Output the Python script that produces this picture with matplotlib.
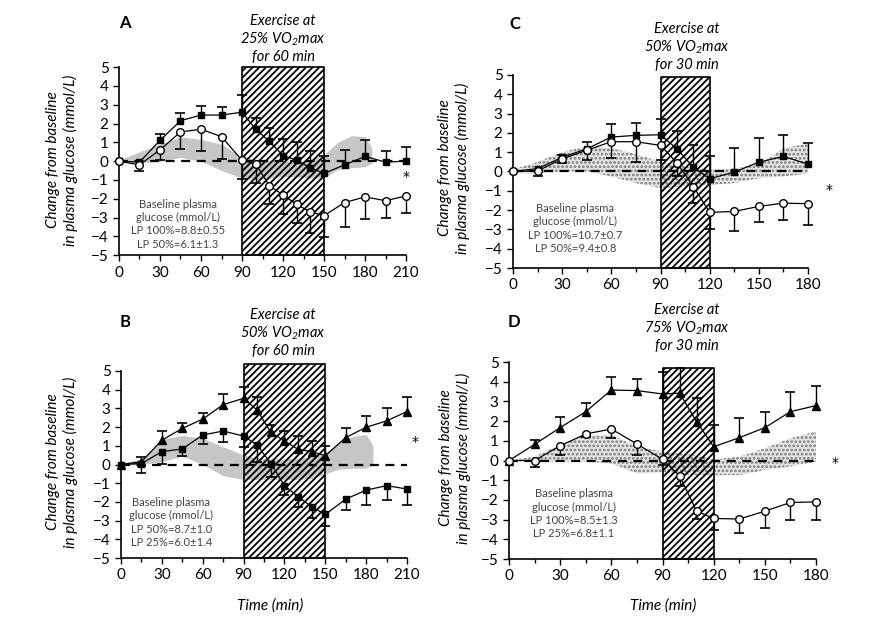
import numpy as np
import matplotlib
matplotlib.use('Agg')
import matplotlib.pyplot as plt

plt.rcParams['font.family'] = ['Lato', 'DejaVu Sans']
plt.rcParams['mathtext.default'] = 'regular'
plt.rcParams['hatch.linewidth'] = 1.3

# ---- panel A: 25% VO2max for 60 min ----
tA = [0, 15, 30, 45, 60, 75, 90, 100, 110, 120, 130, 140, 150, 165, 180, 195, 210]
A_lp100 = [0, -0.05, 1.1, 2.15, 2.45, 2.45, 2.6, 1.7, 1.05, 0.3, 0.05, -0.35, -0.65, -0.2, 0.25, -0.05, 0]
A_lp100_err = [0, 0, 0.35, 0.4, 0.5, 0.45, 0.9, 0.6, 0.7, 0.9, 0.95, 0.9, 0.95, 0.8, 0.85, 0.6, 0.75]
A_lp50 = [0, -0.2, 0.6, 1.55, 1.7, 1.3, 0.05, -0.15, -1.3, -1.8, -2.3, -2.7, -2.9, -2.2, -1.9, -2.1, -1.85]
A_lp50_err = [0, 0.35, 0.55, 0.9, 1.15, 1.2, 1.0, 1.0, 1.0, 1.0, 1.0, 1.1, 1.15, 1.3, 1.2, 0.9, 0.9]
A_band_t = [0, 15, 30, 45, 60, 75, 90, 100, 110, 120, 130, 140, 150, 160, 170, 180, 185]
A_band_hi = [0.05, 0.5, 0.9, 1.3, 1.15, 0.9, 0.2, 0.1, 0.05, 0.0, 0.0, 0.05, 0.35, 1.0, 1.35, 1.3, 0.7]
A_band_lo = [-0.05, -0.1, 0.0, 0.2, 0.0, -0.5, -0.9, -1.0, -0.9, -0.8, -0.85, -0.9, -0.9, -0.45, -0.35, -0.3, -0.1]

# ---- panel B: 50% VO2max for 60 min ----
tB = [0, 15, 30, 45, 60, 75, 90, 100, 110, 120, 130, 140, 150, 165, 180, 195, 210]
B_lp50 = [0, 0.15, 1.3, 1.93, 2.43, 3.2, 3.54, 2.9, 1.72, 1.26, 0.81, 0.69, 0.47, 1.44, 1.99, 2.33, 2.83]
B_lp50_err = [0, 0.25, 0.5, 0.3, 0.3, 0.55, 0.6, 0.7, 0.4, 0.55, 0.7, 0.55, 0.5, 0.5, 0.6, 0.7, 0.8]
B_lp25 = [0, 0.05, 0.69, 0.83, 1.58, 1.79, 1.52, 1.04, 0.05, -1.13, -1.72, -2.26, -2.67, -1.85, -1.37, -1.13, -1.31]
B_lp25_err = [0, 0.5, 0.65, 0.35, 0.5, 0.6, 0.6, 0.9, 0.7, 0.5, 0.55, 0.6, 0.6, 0.6, 0.8, 0.75, 0.85]
B_band_t = [0, 15, 30, 45, 60, 75, 90, 100, 110, 120, 130, 140, 150, 160, 170, 180, 185]
B_band_hi = [0.05, 0.3, 1.35, 1.55, 1.4, 0.95, 0.5, 0.35, 0.3, 0.3, 0.35, 0.4, 0.6, 1.2, 1.5, 1.6, 1.0]
B_band_lo = [-0.05, 0.0, 0.15, 0.45, 0.0, -0.6, -0.8, -0.8, -0.8, -0.8, -0.8, -0.75, -0.5, -0.25, -0.2, -0.2, 0.0]

# ---- panel C: 50% VO2max for 30 min ----
tC = [0, 15, 30, 45, 60, 75, 90, 100, 110, 120, 135, 150, 165, 180]
C_lp100 = [0, 0.15, 0.73, 1.17, 1.78, 1.87, 1.9, 1.17, 0.22, -0.38, -0.03, 0.48, 0.78, 0.38]
C_lp100_err = [0, 0, 0.1, 0.35, 0.67, 0.63, 0.8, 0.9, 1.16, 1.16, 1.27, 1.25, 1.12, 1.09]
C_lp50 = [0, 0.03, 0.65, 1.1, 1.54, 1.54, 1.35, 0.45, -0.78, -2.12, -2.07, -1.81, -1.64, -1.67]
C_lp50_err = [0, 0.29, 0.2, 0.5, 0.84, 1.06, 0.75, 0.7, 0.86, 0.88, 1.03, 0.79, 0.86, 1.09]
C_band_t = [0, 15, 30, 45, 60, 75, 90, 100, 110, 120, 135, 150, 165, 180, 183]
C_band_hi = [0.1, 0.5, 1.0, 1.3, 1.2, 0.9, 0.5, 0.35, 0.17, 0.1, 0.15, 0.35, 1.2, 1.45, 0.8]
C_band_lo = [-0.1, -0.1, 0.0, 0.0, -0.26, -0.6, -0.86, -0.8, -0.7, -0.7, -0.6, -0.35, -0.26, -0.1, 0.0]

# ---- panel D: 75% VO2max for 30 min ----
tD = [0, 15, 30, 45, 60, 75, 90, 100, 110, 120, 135, 150, 165, 180]
D_lp100 = [0, 0.82, 1.67, 2.48, 3.58, 3.55, 3.38, 3.42, 1.97, 0.7, 1.16, 1.67, 2.48, 2.79]
D_lp100_err = [0, 0.22, 0.52, 0.46, 0.67, 0.58, 1.09, 1.26, 1.2, 1.1, 0.98, 0.78, 0.99, 1.0]
D_lp25 = [0, 0, 0.75, 1.35, 1.6, 0.84, 0.06, -0.77, -2.57, -2.94, -2.97, -2.57, -2.13, -2.1]
D_lp25_err = [0, 0.31, 0.47, 0.15, 0.44, 0.56, 0.3, 0.5, 0.4, 0.59, 0.73, 0.83, 0.87, 0.93]
D_band_t = [0, 15, 30, 45, 60, 75, 90, 100, 110, 120, 135, 150, 165, 180, 183]
D_band_hi = [0.0, 0.2, 0.8, 1.3, 1.3, 0.7, 0.45, 0.35, 0.28, 0.05, 0.2, 0.62, 1.13, 1.47, 0.8]
D_band_lo = [0.0, -0.05, -0.06, -0.05, -0.15, -0.65, -0.6, -0.7, -0.74, -0.74, -0.74, -0.48, -0.3, -0.06, 0.0]

ex_labels = {
    'A': 'Exercise at\n25% VO$_2$max\nfor 60 min',
    'B': 'Exercise at\n50% VO$_2$max\nfor 60 min',
    'C': 'Exercise at\n50% VO$_2$max\nfor 30 min',
    'D': 'Exercise at\n75% VO$_2$max\nfor 30 min',
}
baseline_text = {
    'A': 'Baseline plasma\nglucose (mmol/L)\nLP 100%=8.8±0.55\nLP 50%=6.1±1.3',
    'B': 'Baseline plasma\nglucose (mmol/L)\nLP 50%=8.7±1.0\nLP 25%=6.0±1.4',
    'C': 'Baseline plasma\nglucose (mmol/L)\nLP 100%=10.7±0.7\nLP 50%=9.4±0.8',
    'D': 'Baseline plasma\nglucose (mmol/L)\nLP 100%=8.5±1.3\nLP 25%=6.8±1.1',
}


def series(ax, t, y, err, sign, marker, face, ms):
    t, y, err = np.asarray(t), np.asarray(y), np.asarray(err)
    end = y + sign * err
    m = err > 0
    ax.vlines(t[m], y[m], end[m], color='k', lw=1.0, zorder=4, clip_on=False)
    ax.plot(t[m], end[m], ls='none', marker='_', ms=6.5, mew=1.2, color='k',
            zorder=4, clip_on=False)
    ax.plot(t, y, '-', color='k', lw=0.9, marker=marker, ms=ms, mfc=face,
            mec='k', mew=1.0, zorder=5, clip_on=False)


def panel(ax, xmax, band, stipple, ex_end, ex_top, label, lab_x, lab_y,
          box_x, box_y, star):
    bt, blo, bhi = band
    if stipple:
        ax.fill_between(bt, blo, bhi, facecolor='#e4e4e4', edgecolor='#7a7a7a',
                        hatch='....', lw=0, zorder=1)
    else:
        ax.fill_between(bt, blo, bhi, color='#c6c6c6', lw=0, zorder=1)
    ax.fill_between([90, ex_end], -5, ex_top, facecolor='none', edgecolor='k',
                    hatch='/////', lw=1.2, zorder=2, clip_on=False)
    ax.plot([0, xmax], [0, 0], color='k', lw=1.6, ls=(0, (4, 3)), zorder=3)
    ax.set_xlim(0, xmax)
    ax.set_ylim(-5, 5)
    ax.set_xticks(np.arange(0, xmax + 1, 30))
    ax.set_xticks(np.arange(15, xmax, 30), minor=True)
    ax.set_yticks(np.arange(-5, 6, 1))
    ax.tick_params(labelsize=11, length=4, width=1, direction='out')
    ax.tick_params(which='minor', length=3, width=1)
    for s in ['top', 'right']:
        ax.spines[s].set_visible(False)
    for s in ['left', 'bottom']:
        ax.spines[s].set_linewidth(1.2)
    ax.text(lab_x, lab_y, ex_labels[label], ha='center', va='bottom',
            style='italic', fontsize=10.5, clip_on=False)
    ax.text(box_x, box_y, baseline_text[label], ha='center', va='center',
            fontsize=8, color='#444444', linespacing=1.25)
    ax.text(star[0], star[1], '*', ha='center', va='center', fontsize=10,
            family='DejaVu Sans')


fig = plt.figure(figsize=(8.9, 6.21), dpi=100)
axA = fig.add_axes([0.1337, 0.589, 0.3225, 0.303])
axB = fig.add_axes([0.136, 0.1014, 0.3213, 0.3012])
axC = fig.add_axes([0.5764, 0.5684, 0.3315, 0.311])
axD = fig.add_axes([0.5719, 0.0998, 0.345, 0.3172])

panel(axA, 210, (A_band_t, A_band_lo, A_band_hi), False, 150, 5.0, 'A',
      120, 5.15, 43, -3.35, (210, -0.85))
series(axA, tA, A_lp100, A_lp100_err, 1, 's', 'k', 5)
series(axA, tA, A_lp50, A_lp50_err, -1, 'o', 'white', 5.5)

panel(axB, 210, (B_band_t, B_band_lo, B_band_hi), False, 150, 5.35, 'B',
      119, 5.7, 37, -3.1, (216, 1.2))
series(axB, tB, B_lp50, B_lp50_err, 1, '^', 'k', 6)
series(axB, tB, B_lp25, B_lp25_err, -1, 's', 'k', 5)

panel(axC, 180, (C_band_t, C_band_lo, C_band_hi), True, 120, 4.9, 'C',
      106, 5.15, 38, -2.95, (193, -0.95))
series(axC, tC, C_lp100, C_lp100_err, 1, 's', 'k', 5)
series(axC, tC, C_lp50, C_lp50_err, -1, 'o', 'white', 5.5)

panel(axD, 180, (D_band_t, D_band_lo, D_band_hi), True, 120, 4.7, 'D',
      104, 5.45, 38, -2.7, (191, -0.1))
series(axD, tD, D_lp100, D_lp100_err, 1, '^', 'k', 6)
series(axD, tD, D_lp25, D_lp25_err, -1, 'o', 'white', 5.5)

ylab = 'Change from baseline\nin plasma glucose (mmol/L)'
for x, y in [(62, 160), (62, 462), (454, 168), (455, 458)]:
    fig.text(x / 890, 1 - y / 621, ylab, rotation=90, ha='center', va='center',
             style='italic', fontsize=11, linespacing=1.25)
for x in [270, 663]:
    fig.text(x / 890, 1 - 606 / 621, 'Time (min)', ha='center', va='center',
             style='italic', fontsize=11)
for letter, x, y in [('A', 125, 23), ('B', 125, 322), ('C', 515, 24), ('D', 514, 322)]:
    fig.text(x / 890, 1 - y / 621, letter, ha='center', va='center',
             fontweight='bold', fontsize=12)

fig.savefig('out.png', dpi=100, facecolor='white')
